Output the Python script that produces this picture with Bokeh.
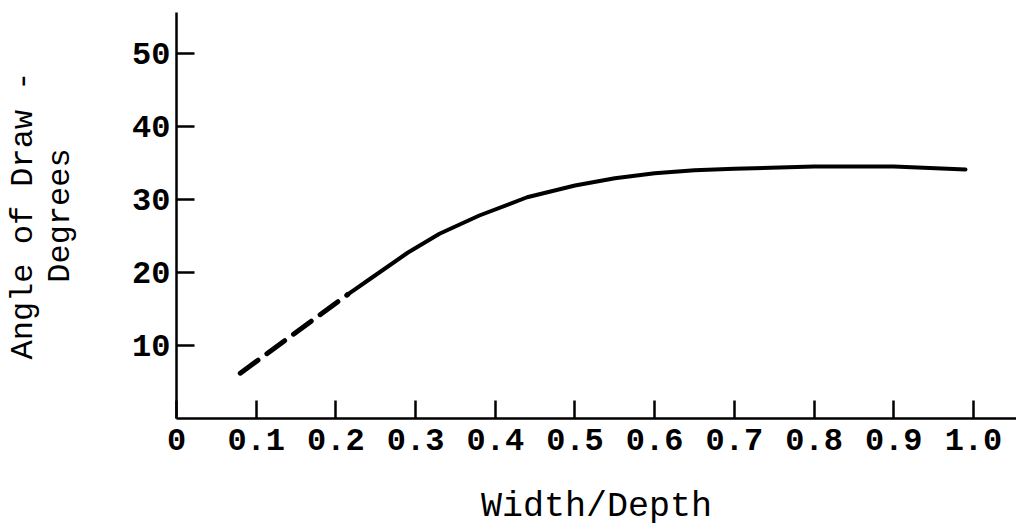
from bokeh.plotting import figure
from bokeh.models import Range1d, FixedTicker
from bokeh.embed import file_html
from bokeh.resources import INLINE

# Data
dash_x = [0.08, 0.215]
dash_y = [6.2, 17.0]
solid_x = [0.215, 0.24, 0.29, 0.33, 0.38, 0.44, 0.50, 0.55, 0.60, 0.65, 0.70, 0.80, 0.90, 0.99]
solid_y = [17.0, 18.9, 22.7, 25.3, 27.8, 30.3, 31.9, 32.9, 33.6, 34.0, 34.2, 34.5, 34.5, 34.1]
x_ticks = [0, 0.1, 0.2, 0.3, 0.4, 0.5, 0.6, 0.7, 0.8, 0.9, 1.0]
x_tick_labels = ["0", "0.1", "0.2", "0.3", "0.4", "0.5", "0.6", "0.7", "0.8", "0.9", "1.0"]
y_ticks = [10, 20, 30, 40, 50]
y_tick_labels = ["10", "20", "30", "40", "50"]
x_title = "Width/Depth"
y_title = "Angle of Draw -\nDegrees"

FONT = "Liberation Mono"

p = figure(width=1016, height=530, output_backend="svg", toolbar_location=None,
           x_range=Range1d(0, 1.054), y_range=Range1d(0, 55.6),
           min_border_left=176, min_border_right=0, min_border_top=12, min_border_bottom=112)
p.outline_line_color = None
p.background_fill_color = "white"
p.border_fill_color = "white"
p.grid.visible = False

p.line(dash_x, dash_y, line_color="black", line_width=5, line_dash="22 11", line_cap="round")
p.line(solid_x, solid_y, line_color="black", line_width=4, line_cap="round", line_join="round")

for ax in (p.xaxis[0], p.yaxis[0]):
    ax.axis_line_color = "black"
    ax.axis_line_width = 2.5
    ax.major_tick_line_color = "black"
    ax.major_tick_line_width = 2.5
    ax.major_tick_in = 18
    ax.major_tick_out = 0
    ax.minor_tick_line_color = None
    ax.major_label_text_font = FONT
    ax.major_label_text_font_size = "32px"
    ax.major_label_text_font_style = "bold"
    ax.major_label_text_color = "black"
    ax.axis_label_text_font = FONT
    ax.axis_label_text_font_style = "normal"
    ax.axis_label_text_color = "black"

p.xaxis[0].ticker = FixedTicker(ticks=x_ticks)
p.xaxis[0].major_label_overrides = {t: l for t, l in zip(x_ticks, x_tick_labels)}
p.xaxis[0].major_label_standoff = 10
p.xaxis[0].axis_label = x_title
p.xaxis[0].axis_label_text_font_size = "35px"
p.xaxis[0].axis_label_standoff = 34

p.yaxis[0].ticker = FixedTicker(ticks=y_ticks)
p.yaxis[0].major_label_overrides = {t: l for t, l in zip(y_ticks, y_tick_labels)}
p.yaxis[0].major_label_standoff = 6
p.yaxis[0].axis_label = y_title
p.yaxis[0].axis_label_text_font_size = "32px"
p.yaxis[0].axis_label_text_line_height = 1.0
p.yaxis[0].axis_label_standoff = 50

open("out.html", "w").write(file_html(p, INLINE))
